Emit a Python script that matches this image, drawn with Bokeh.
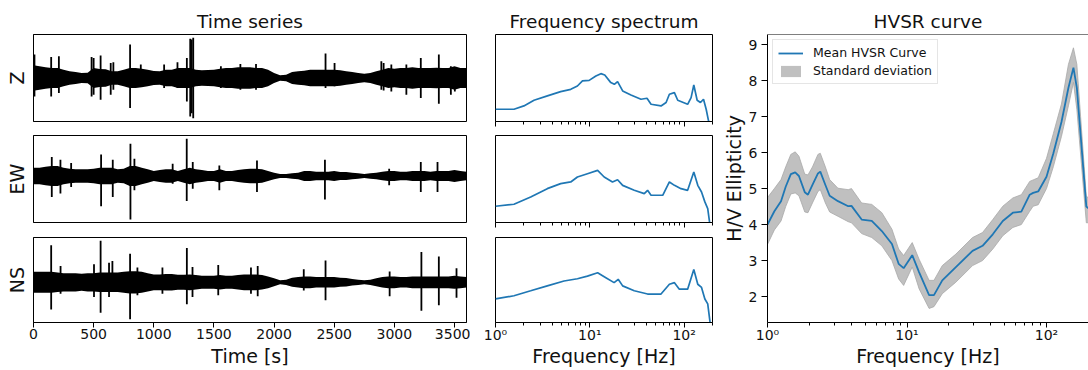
import numpy as np
from bokeh.plotting import figure
from bokeh.layouts import row, column
from bokeh.models import FixedTicker, Range1d, Span, Legend, LegendItem
from bokeh.embed import file_html
from bokeh.resources import INLINE

FONT = "DejaVu Sans"
TICK_FS = "14px"
LAB_FS = "19px"
TITLE_FS = "18.5px"
BLUE = "#1f77b4"

# ---------------- time series (envelope half-widths every 50 s, plus spikes) -------------
time_s = list(range(0, 3601, 50))
time_ticks = [0, 500, 1000, 1500, 2000, 2500, 3000, 3500]

z_env = [3.8, 3.5, 3.2, 3.0, 3.0, 2.5, 2.0, 1.8, 1.5, 1.6,
         3.0, 2.7, 2.6, 2.0, 2.0, 2.5, 3.0, 3.0, 2.8, 2.5,
         2.1, 2.0, 2.5, 2.5, 3.0, 3.0, 3.0, 2.5, 2.3, 2.4,
         2.5, 2.8, 3.0, 3.0, 3.2, 3.2, 3.2, 3.0, 3.0, 2.5,
         1.5, 0.8, 1.0, 1.8, 2.0, 2.2, 2.5, 2.5, 2.5, 2.5,
         2.5, 2.3, 2.0, 1.8, 1.5, 1.3, 1.5, 2.0, 2.5, 3.0,
         2.8, 3.0, 3.0, 3.2, 3.0, 3.0, 3.0, 3.1, 3.0, 3.0,
         3.5, 3.0, 3.0]
ew_env = [2.5, 2.5, 2.8, 3.0, 3.0, 2.5, 2.2, 2.0, 2.0, 2.0,
          2.2, 2.5, 2.5, 2.5, 2.0, 2.2, 3.0, 3.0, 2.5, 2.0,
          1.5, 1.8, 2.0, 2.0, 1.5, 2.0, 2.5, 2.0, 1.8, 1.5,
          1.5, 2.0, 1.5, 1.5, 1.8, 2.0, 2.2, 2.2, 2.0, 1.5,
          1.0, 0.6, 0.6, 0.8, 1.0, 1.5, 1.5, 1.3, 1.3, 1.3,
          1.5, 1.2, 1.2, 1.0, 0.8, 0.6, 0.8, 1.0, 1.3, 1.5,
          1.5, 1.3, 1.3, 1.5, 1.5, 1.5, 1.3, 1.5, 1.5, 1.5,
          1.8, 1.5, 1.3]
ns_env = [3.2, 3.2, 3.2, 3.2, 3.0, 2.8, 2.8, 2.8, 2.6, 2.8,
          2.8, 3.0, 3.0, 3.0, 3.0, 3.2, 3.4, 3.4, 3.2, 2.8,
          2.4, 2.4, 2.5, 2.5, 2.3, 2.3, 2.4, 2.2, 2.0, 2.0,
          2.0, 2.2, 2.0, 2.0, 2.2, 2.4, 2.4, 2.4, 2.2, 1.8,
          1.2, 0.6, 0.8, 1.4, 1.6, 1.8, 1.8, 1.6, 1.6, 1.6,
          1.6, 1.4, 1.3, 1.0, 0.8, 0.6, 0.8, 1.2, 1.6, 1.8,
          1.8, 1.6, 1.6, 1.8, 1.8, 1.8, 1.8, 1.8, 1.8, 1.8,
          2.0, 1.8, 1.6]

z_spike_t = [8, 147, 211, 483, 500, 558, 642, 664, 803, 892, 1086, 1197, 1275, 1303, 1315, 1328, 1558,
             1720, 1850, 2428, 2503, 2892, 2911, 2975, 3100, 3220, 3370, 3470, 3503]
z_spike_top = [7.0, 6.3, 6.5, 6.3, 6.0, 6.7, 4.5, 4.7, 10.0, 4.0, 4.0, 4.7, 6.0, 11.7, 11.5, 12.0, 3.5,
               4.2, 4.2, 7.3, 4.5, 5.0, 4.5, 4.0, 4.0, 6.0, 7.0, 3.5, 3.2]
z_spike_bot = [-5.5, -5.5, -4.5, -5.5, -5.0, -6.5, -5.0, -3.5, -9.0, -2.5, -3.0, -3.0, -7.0, -11.5, -10.5, -12.0, -3.0,
               -3.5, -3.5, -3.0, -2.5, -3.5, -3.7, -4.0, -5.0, -6.0, -7.7, -5.0, -4.0]

ew_spike_t = [152, 224, 313, 562, 659, 806, 839, 1157, 1274, 1324, 1545, 1858, 2423, 2957, 3220, 3359]
ew_spike_top = [5.7, 4.9, 3.9, 6.5, 4.9, 9.7, 5.2, 3.7, 11.2, 4.2, 3.2, 4.7, 4.9, 2.2, 4.2, 4.2]
ew_spike_bot = [-6.3, -5.3, -3.3, -9.1, -6.3, -13.1, -4.3, -2.3, -7.5, -3.8, -4.3, -4.8, -7.1, -2.8, -4.8, -4.8]

ns_spike_t = [147, 225, 503, 558, 628, 656, 803, 864, 1072, 1275, 1322, 1536, 1808, 1864, 2247, 2428,
              2961, 3225, 3370, 3517]
ns_spike_top = [11.3, 5.0, 5.5, 12.7, 6.0, 6.5, 8.7, 4.5, 4.5, 10.5, 4.7, 5.3, 4.5, 5.0, 4.0, 6.7,
                3.3, 9.3, 7.9, 4.3]
ns_spike_bot = [-8.3, -3.5, -4.5, -9.3, -4.5, -3.0, -11.3, -4.0, -3.5, -6.7, -4.5, -4.0, -3.5, -4.3, -2.5, -5.5,
                -4.3, -8.7, -7.0, -4.7]

z_ylim = (-13.0, 13.0)
ew_ylim = (-14.0, 12.2)
ns_ylim = (-12.3, 13.7)

# ---------------- frequency spectra (relative amplitude, frame = 0..100) -------------
spec_z_f = [1.0, 1.57, 2.0, 2.56, 3.55, 4.91, 6.28, 7.39, 8.36, 9.84, 11.6, 13.1, 14.4, 16.7, 18.2,
            19.7, 22.3, 27.3, 34.9, 40.4, 44.6, 56.9, 64.4, 69.8, 78.9, 85.6, 109, 118.6, 126.7,
            137.5, 149, 160.6, 171.4, 181.5, 190]
spec_z = [14.1, 14.1, 17.9, 24.4, 29.4, 34.4, 37.0, 40.8, 46.6, 47.3, 52.3, 55.0, 53.4, 44.7, 42.7,
          45.8, 35.1, 30.5, 25.6, 26.7, 19.8, 17.9, 21.8, 31.3, 33.2, 24.4, 19.8, 27.5, 42.0,
          24.4, 21.8, 25.6, 14.1, 0.8, -5.0]
spec_ew_f = [1.0, 1.57, 2.36, 3.54, 4.91, 6.28, 7.39, 9.44, 12.1, 14.2, 17.4, 19.7, 22.3, 29.6, 37.8,
             41.0, 44.6, 59.3, 69.8, 79.0, 92.7, 109, 126.7, 139.6, 153, 166, 178, 188]
spec_ew = [18.7, 21.0, 29.4, 38.9, 44.7, 46.6, 52.3, 56.1, 59.9, 52.3, 46.6, 49.2, 42.7, 37.0, 33.2,
           37.0, 31.3, 31.3, 46.6, 42.7, 38.9, 37.0, 58.0, 42.7, 35.1, 23.7, 16.0, -3.0]
spec_ns_f = [1.0, 1.57, 2.36, 3.54, 5.33, 7.39, 9.44, 12.1, 14.8, 18.1, 20.0, 22.3, 29.6, 41.0, 56.9,
             69.8, 79.0, 89.0, 109, 126.7, 139.6, 153, 166, 178, 190]
spec_ns = [27.7, 31.5, 37.3, 43.1, 48.8, 51.5, 54.6, 58.5, 52.7, 46.9, 50.8, 43.1, 37.3, 33.5, 33.5,
           45.0, 46.9, 39.2, 39.2, 62.3, 45.0, 41.2, 27.7, 21.9, -3.0]

# ---------------- HVSR curve -------------
hv_f = [1.0, 1.12, 1.25, 1.35, 1.47, 1.58, 1.68, 1.85, 1.95, 2.1, 2.3, 2.39, 2.6, 2.79, 3.2, 3.79,
        4.0, 4.73, 5.59, 6.6, 7.8, 8.71, 9.46, 10.9, 12.2, 14.4, 15.6, 17.9, 22.4, 29.5, 34.8, 41.2,
        48.6, 57.4, 66, 75.8, 80.2, 87.2, 100, 112, 128, 143.6, 156, 165, 193, 200]
hv_mean = [4.0, 4.37, 4.65, 5.05, 5.40, 5.45, 5.35, 4.9, 4.83, 5.1, 5.42, 5.47, 5.1, 4.8, 4.65, 4.51,
           4.52, 4.14, 4.10, 3.82, 3.46, 2.91, 2.79, 3.15, 2.68, 2.04, 2.04, 2.45, 2.82, 3.27, 3.41, 3.73,
           4.10, 4.33, 4.36, 4.83, 4.88, 4.92, 5.33, 5.98, 6.85, 7.8, 8.36, 7.8, 4.5, 4.45]
hv_upper = [4.75, 5.0, 5.25, 5.6, 5.95, 6.02, 5.9, 5.4, 5.38, 5.6, 5.95, 5.98, 5.6, 5.25, 5.01, 4.97,
            5.0, 4.6, 4.56, 4.33, 3.87, 3.32, 3.14, 3.5, 3.04, 2.45, 2.45, 2.86, 3.18, 3.64, 3.78, 4.14,
            4.51, 4.74, 4.83, 5.2, 5.24, 5.3, 5.84, 6.53, 7.35, 8.45, 8.91, 8.45, 4.78, 4.75]
hv_lower = [3.45, 3.85, 4.1, 4.5, 4.85, 4.88, 4.8, 4.35, 4.33, 4.6, 4.92, 4.97, 4.6, 4.35, 4.23, 4.08,
            4.05, 3.75, 3.64, 3.41, 3.0, 2.49, 2.31, 2.82, 2.22, 1.67, 1.72, 2.08, 2.4, 2.86, 3.0, 3.32,
            3.69, 3.92, 4.0, 4.37, 4.51, 4.55, 5.0, 5.61, 6.45, 7.3, 7.95, 7.2, 4.05, 4.05]
hv_yticks = [2, 3, 4, 5, 6, 7, 8, 9]
hv_ylim = (1.28, 9.28)
freq_lim = (1.0, 200.0)
log_major = [1, 10, 100]
log_minor = [2, 3, 4, 5, 6, 7, 8, 9, 20, 30, 40, 50, 60, 70, 80, 90, 200]
log_labels = {1: "10⁰", 10: "10¹", 100: "10²"}


def style_axis(ax):
    ax.axis_line_color = "black"
    ax.axis_line_width = 1
    ax.major_tick_line_color = "black"
    ax.minor_tick_line_color = "black"
    ax.major_tick_in = 0
    ax.major_tick_out = 5
    ax.minor_tick_in = 0
    ax.minor_tick_out = 3
    ax.major_label_text_font = FONT
    ax.major_label_text_font_size = TICK_FS
    ax.major_label_text_color = "#111111"
    ax.major_label_text_line_height = 1.0
    ax.axis_label_text_font = FONT
    ax.axis_label_text_font_size = LAB_FS
    ax.axis_label_text_font_style = "normal"
    ax.axis_label_text_color = "#111111"
    ax.axis_label_text_line_height = 1.0
    ax.major_label_standoff = -1
    ax.axis_label_standoff = -1


def make_fig(width, height, lb, rb, tb, bb, x_type, x_range, y_range, title=None):
    kw = dict(width=width, height=height, x_axis_type=x_type, x_range=x_range, y_range=y_range,
              output_backend="svg", toolbar_location=None, min_border_left=lb, min_border_right=rb,
              min_border_top=tb, min_border_bottom=bb)
    if title:
        kw["title"] = title
    p = figure(**kw)
    p.grid.visible = False
    p.outline_line_color = "black"
    p.outline_line_width = 1
    p.outline_line_alpha = 1
    p.background_fill_color = "white"
    p.border_fill_color = "white"
    if title:
        p.title.text_font = FONT
        p.title.text_font_size = TITLE_FS
        p.title.text_font_style = "normal"
        p.title.text_color = "#111111"
        p.title.text_line_height = 1.0
        p.title.align = "center"
        p.title.standoff = 6
    style_axis(p.xaxis[0])
    style_axis(p.yaxis[0])
    return p


# vertical layout: (top border, frame height, bottom border)
rows_geom = [(34, 87, 7), (7, 87, 7), (8, 86, 46)]

# ---------- column 1: time series ----------
ts_specs = [("Z", z_env, z_spike_t, z_spike_top, z_spike_bot, z_ylim),
            ("EW", ew_env, ew_spike_t, ew_spike_top, ew_spike_bot, ew_ylim),
            ("NS", ns_env, ns_spike_t, ns_spike_top, ns_spike_bot, ns_ylim)]
col1 = []
for i, (lab, env, st, stop, sbot, ylim) in enumerate(ts_specs):
    tb, fh, bb = rows_geom[i]
    p = make_fig(470, tb + fh + bb, 33, 4, tb, bb, "linear", Range1d(0, 3600), Range1d(*ylim),
                 title="Time series" if i == 0 else None)
    e = np.array(env)
    p.varea(x=time_s, y1=-e, y2=e, fill_color="black")
    p.segment(x0=st, y0=sbot, x1=st, y1=stop, line_color="black", line_width=1.8)
    p.yaxis.ticker = FixedTicker(ticks=[])
    p.yaxis.major_tick_out = 0
    p.yaxis.minor_tick_out = 0
    p.yaxis.major_label_standoff = 0
    p.yaxis.axis_label_standoff = 6
    p.yaxis.axis_label = lab
    if i == 2:
        p.xaxis.ticker = FixedTicker(ticks=time_ticks)
        p.xaxis.axis_label = "Time [s]"
        p.xaxis.major_label_standoff = 1
        p.xaxis.axis_label_standoff = 3
    else:
        p.xaxis.visible = False
    col1.append(p)

# ---------- column 2: spectra ----------
sp_specs = [(spec_z_f, spec_z), (spec_ew_f, spec_ew), (spec_ns_f, spec_ns)]
col2 = []
for i, (ff, vv) in enumerate(sp_specs):
    tb, fh, bb = rows_geom[i]
    p = make_fig(249, tb + fh + bb, 25, 7, tb, bb, "log", Range1d(*freq_lim), Range1d(0, 100),
                 title="Frequency spectrum" if i == 0 else None)
    p.line(ff, vv, line_color=BLUE, line_width=1.7)
    p.yaxis.visible = False
    p.xaxis.ticker = FixedTicker(ticks=log_major, minor_ticks=log_minor)
    p.xaxis.major_label_overrides = log_labels
    if i == 2:
        p.xaxis.axis_label = "Frequency [Hz]"
    else:
        p.xaxis.major_label_text_font_size = "1px"
        p.xaxis.major_label_text_alpha = 0
        p.xaxis.major_label_standoff = 0
    col2.append(p)

# ---------- column 3: HVSR ----------
ph = make_fig(369, 369, 48, 0, 34, 45, "log", Range1d(*freq_lim), Range1d(*hv_ylim), title="HVSR curve")
ph.outline_line_color = None
band = ph.varea(x=hv_f, y1=hv_lower, y2=hv_upper, fill_color="#c0c0c0")
ph.line(hv_f, hv_upper, line_color="#a8a8a8", line_width=0.8)
ph.line(hv_f, hv_lower, line_color="#a8a8a8", line_width=0.8)
mean_r = ph.line(hv_f, hv_mean, line_color=BLUE, line_width=1.8)
ph.add_layout(Span(location=hv_ylim[1], dimension="width", line_color="black", line_width=1))
ph.xaxis.ticker = FixedTicker(ticks=log_major, minor_ticks=log_minor)
ph.xaxis.major_label_overrides = log_labels
ph.xaxis.axis_label = "Frequency [Hz]"
ph.yaxis.ticker = FixedTicker(ticks=hv_yticks)
ph.yaxis.axis_label = "H/V Ellipticity"
ph.yaxis.major_tick_out = 6
ph.yaxis.major_label_standoff = 4
ph.yaxis.axis_label_standoff = 1

legend = Legend(items=[LegendItem(label="Mean HVSR Curve", renderers=[mean_r]),
                       LegendItem(label="Standard deviation", renderers=[band])],
                location="top_left")
legend.margin = 5
legend.padding = 5
legend.spacing = 3
legend.label_text_font = FONT
legend.label_text_font_size = "12.5px"
legend.label_text_color = "#111111"
legend.glyph_width = 25
legend.glyph_height = 14
legend.label_height = 14
legend.label_standoff = 10
legend.border_line_color = "#cccccc"
legend.border_line_width = 1
legend.background_fill_alpha = 0.8
ph.add_layout(legend)

layout = row(column(*col1, spacing=0), column(*col2, spacing=0), ph, spacing=0)

open("out.html", "w").write(file_html(layout, INLINE))
